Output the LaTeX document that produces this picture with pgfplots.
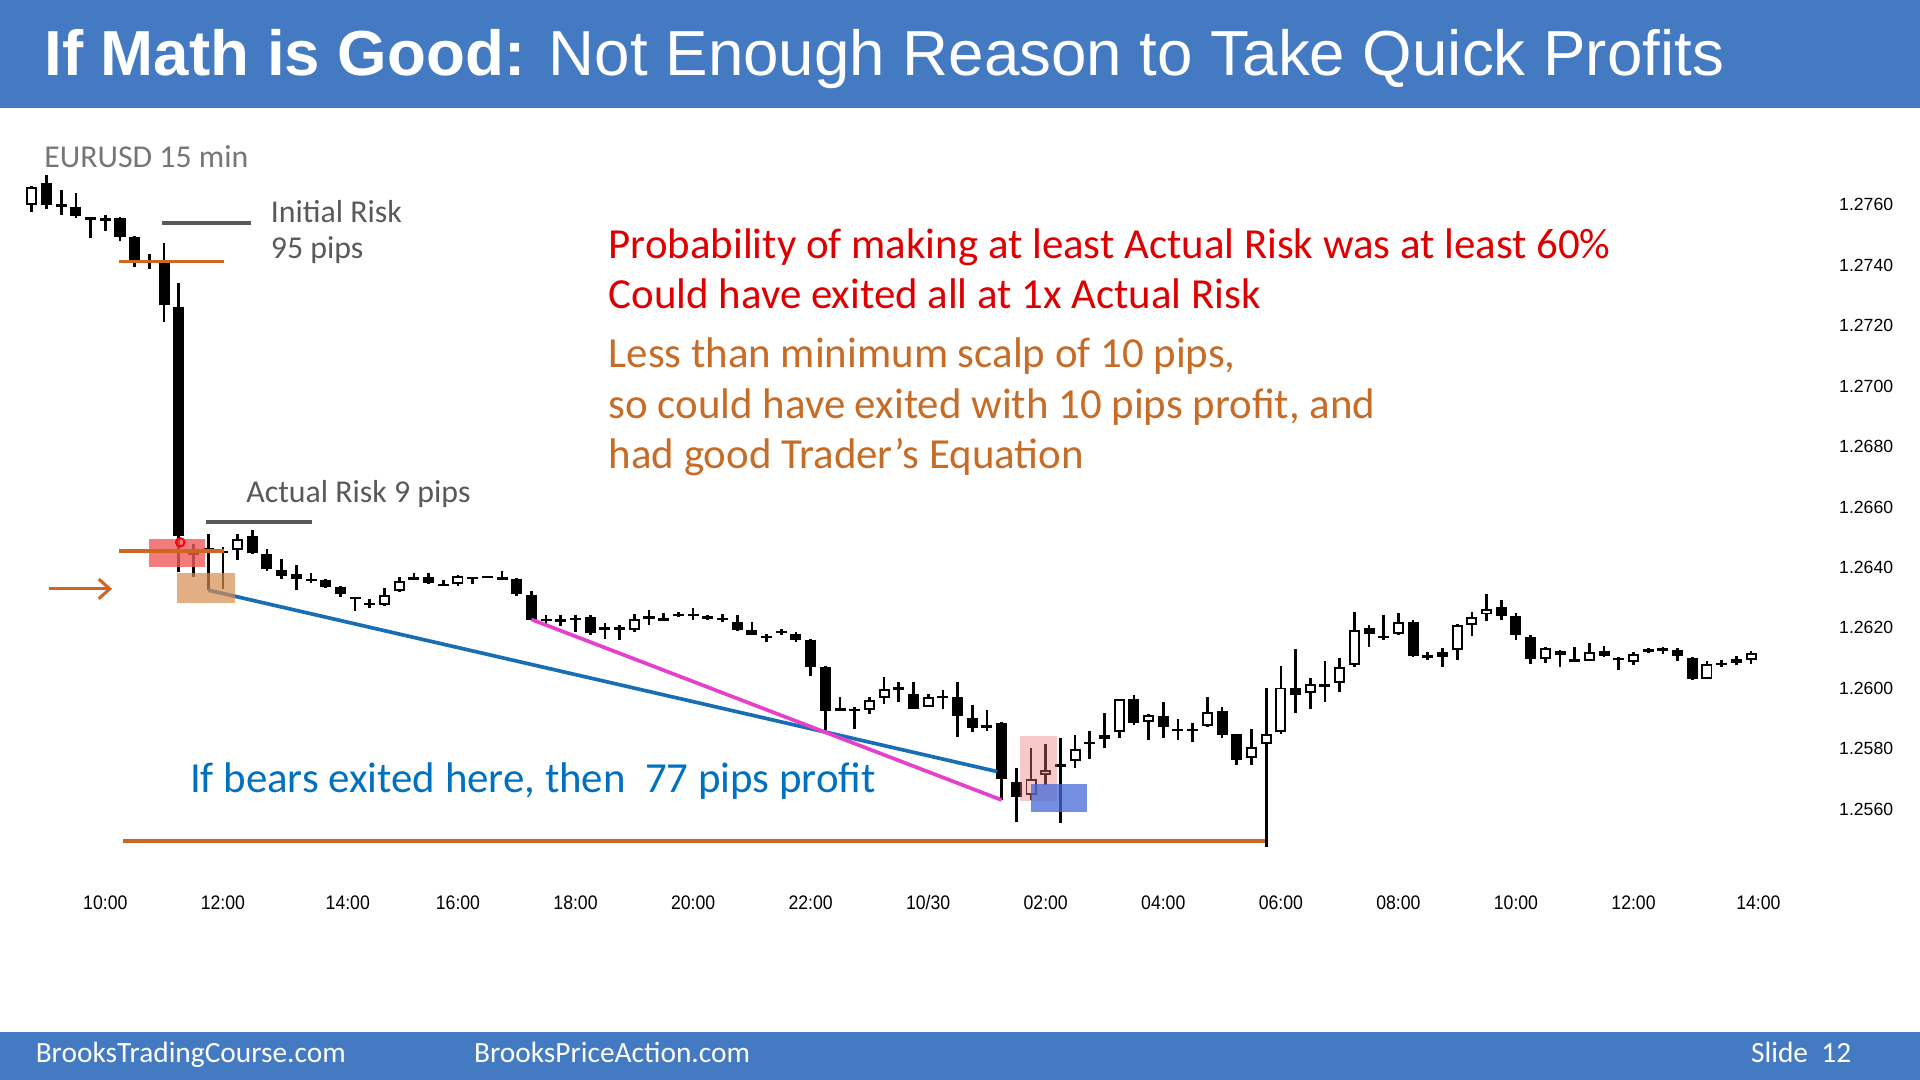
\documentclass[border=0pt]{standalone}
\usepackage{fontspec}
\setmainfont{Carlito}
\newfontfamily\arialfont{Liberation Sans}
\newfontfamily\tickfont[FakeStretch=0.9]{Liberation Sans}
\usepackage{pgfplots}
\pgfplotsset{compat=1.18}
\usepackage{pgfplotstable}
\usetikzlibrary{arrows.meta}

\definecolor{slideblue}{RGB}{67,122,194}
\definecolor{riskgray}{RGB}{89,89,89}
\definecolor{labelgray}{RGB}{118,118,118}
\definecolor{mathred}{RGB}{222,0,0}
\definecolor{scalporange}{RGB}{198,108,38}
\definecolor{stoporange}{RGB}{205,102,35}
\definecolor{profitblue}{RGB}{0,112,192}
\definecolor{trendblue}{RGB}{24,110,180}
\definecolor{trendmagenta}{RGB}{228,64,205}
\definecolor{entryred}{RGB}{240,90,90}
\definecolor{entrytan}{RGB}{214,140,80}
\definecolor{zonepink}{RGB}{235,120,120}
\definecolor{zoneblue}{RGB}{70,105,215}

% EURUSD 15 min bars: index (0 = 10:00), open, high, low, close
\pgfplotstableread{
i o h l c
-5 1.27598 1.27661 1.27576 1.27659
-4 1.27670 1.27697 1.27587 1.27598
-3 1.27600 1.27648 1.27565 1.27596
-2 1.27593 1.27639 1.27557 1.27562
-1 1.27557 1.27560 1.27491 1.27554
0 1.27552 1.27568 1.27513 1.27549
1 1.27557 1.27559 1.27482 1.27493
2 1.27493 1.27496 1.27394 1.27414
3 1.27416 1.27438 1.27389 1.27412
4 1.27411 1.27474 1.27212 1.27268
5 1.27262 1.27341 1.26386 1.26505
6 1.26450 1.26480 1.26370 1.26440
7 1.26463 1.26513 1.26325 1.26455
8 1.26450 1.26469 1.26330 1.26454
9 1.26458 1.26513 1.26425 1.26496
10 1.26504 1.26524 1.26445 1.26447
11 1.26447 1.26463 1.26389 1.26397
12 1.26394 1.26430 1.26364 1.26372
13 1.26378 1.26408 1.26328 1.26364
14 1.26360 1.26381 1.26348 1.26358
15 1.26361 1.26364 1.26333 1.26336
16 1.26334 1.26339 1.26303 1.26312
17 1.26301 1.26304 1.26259 1.26298
18 1.26283 1.26298 1.26268 1.26280
19 1.26276 1.26331 1.26273 1.26311
20 1.26322 1.26369 1.26320 1.26355
21 1.26369 1.26381 1.26357 1.26359
22 1.26367 1.26381 1.26345 1.26347
23 1.26343 1.26359 1.26340 1.26341
24 1.26347 1.26375 1.26339 1.26372
25 1.26368 1.26370 1.26347 1.26366
26 1.26370 1.26373 1.26365 1.26368
27 1.26364 1.26389 1.26361 1.26362
28 1.26364 1.26367 1.26305 1.26314
29 1.26309 1.26323 1.26226 1.26228
30 1.26229 1.26243 1.26215 1.26227
31 1.26226 1.26243 1.26209 1.26225
32 1.26231 1.26243 1.26187 1.26229
33 1.26237 1.26243 1.26177 1.26184
34 1.26200 1.26215 1.26163 1.26197
35 1.26199 1.26210 1.26160 1.26197
36 1.26193 1.26248 1.26187 1.26231
37 1.26234 1.26259 1.26210 1.26236
38 1.26230 1.26250 1.26227 1.26228
39 1.26245 1.26254 1.26235 1.26240
40 1.26244 1.26265 1.26226 1.26241
41 1.26237 1.26243 1.26228 1.26234
42 1.26232 1.26248 1.26220 1.26229
43 1.26221 1.26243 1.26191 1.26193
44 1.26193 1.26221 1.26175 1.26177
45 1.26172 1.26182 1.26155 1.26170
46 1.26190 1.26199 1.26177 1.26186
47 1.26182 1.26188 1.26155 1.26160
48 1.26160 1.26165 1.26044 1.26072
49 1.26072 1.26074 1.25862 1.25926
50 1.25930 1.25973 1.25927 1.25929
51 1.25930 1.25940 1.25865 1.25928
52 1.25929 1.25973 1.25915 1.25962
53 1.25970 1.26037 1.25948 1.26000
54 1.26006 1.26022 1.25956 1.25995
55 1.25984 1.26022 1.25932 1.25934
56 1.25940 1.25984 1.25938 1.25973
57 1.25975 1.25995 1.25934 1.25971
58 1.25973 1.26022 1.25838 1.25909
59 1.25904 1.25945 1.25857 1.25871
60 1.25879 1.25929 1.25862 1.25868
61 1.25885 1.25890 1.25631 1.25699
62 1.25692 1.25736 1.25559 1.25642
63 1.25648 1.25802 1.25631 1.25703
64 1.25714 1.25818 1.25681 1.25730
65 1.25741 1.25835 1.25554 1.25752
66 1.25763 1.25846 1.25739 1.25802
67 1.25816 1.25860 1.25769 1.25824
68 1.25835 1.25920 1.25805 1.25846
69 1.25857 1.25967 1.25838 1.25964
70 1.25967 1.25978 1.25879 1.25885
71 1.25890 1.25918 1.25832 1.25912
72 1.25909 1.25956 1.25838 1.25871
73 1.25866 1.25901 1.25832 1.25860
74 1.25865 1.25885 1.25824 1.25862
75 1.25876 1.25970 1.25874 1.25923
76 1.25926 1.25940 1.25838 1.25846
77 1.25849 1.25852 1.25747 1.25765
78 1.25772 1.25865 1.25747 1.25807
79 1.25818 1.26003 1.25476 1.25849
80 1.25857 1.26074 1.25849 1.26003
81 1.26003 1.26132 1.25920 1.25978
82 1.25986 1.26036 1.25934 1.26015
83 1.26013 1.26092 1.25956 1.26010
84 1.26019 1.26100 1.25989 1.26070
85 1.26077 1.26254 1.26072 1.26193
86 1.26199 1.26210 1.26138 1.26182
87 1.26173 1.26243 1.26160 1.26169
88 1.26180 1.26250 1.26178 1.26221
89 1.26221 1.26228 1.26105 1.26110
90 1.26109 1.26122 1.26094 1.26106
91 1.26122 1.26136 1.26072 1.26103
92 1.26127 1.26215 1.26094 1.26210
93 1.26210 1.26254 1.26173 1.26237
94 1.26246 1.26314 1.26224 1.26265
95 1.26270 1.26292 1.26228 1.26239
96 1.26239 1.26250 1.26162 1.26177
97 1.26171 1.26177 1.26081 1.26099
98 1.26099 1.26138 1.26083 1.26133
99 1.26125 1.26128 1.26070 1.26110
100 1.26099 1.26136 1.26086 1.26088
101 1.26092 1.26151 1.26090 1.26122
102 1.26125 1.26140 1.26103 1.26107
103 1.26100 1.26103 1.26061 1.26097
104 1.26088 1.26122 1.26077 1.26114
105 1.26132 1.26136 1.26118 1.26122
106 1.26130 1.26138 1.26116 1.26128
107 1.26129 1.26133 1.26092 1.26110
108 1.26103 1.26105 1.26028 1.26033
109 1.26033 1.26092 1.26031 1.26081
110 1.26082 1.26094 1.26072 1.26080
111 1.26096 1.26107 1.26077 1.26083
112 1.26096 1.26125 1.26083 1.26118
}\candles

\begin{document}
\begin{tikzpicture}
% slide background, title bar and footer bar
\fill[white] (0pt,0pt) rectangle (1568pt,-882pt);
\fill[slideblue] (0pt,0pt) rectangle (1568pt,-88pt);
\fill[slideblue] (0pt,-843pt) rectangle (1568pt,-882pt);

\begin{axis}[
  at={(2pt,-710.4pt)}, anchor=south west,
  scale only axis, width=1452pt, height=568.1pt,
  xmin=-7, xmax=114, ymin=1.254, ymax=1.277,
  clip=false,
  axis line style={draw=none},
  major tick length=0pt, tick style={draw=none},
  xtick={0,8,16.5,24,32,40,48,56,64,72,80,88,96,104,112.5},
  xticklabels={10:00,12:00,14:00,16:00,18:00,20:00,22:00,10/30,02:00,04:00,06:00,08:00,10:00,12:00,14:00},
  ytick={1.256,1.258,1.260,1.262,1.264,1.266,1.268,1.270,1.272,1.274,1.276},
  yticklabels={1.2560,1.2580,1.2600,1.2620,1.2640,1.2660,1.2680,1.2700,1.2720,1.2740,1.2760},
  yticklabel pos=right,
  xticklabel style={font=\tickfont\fontsize{16}{18}\selectfont, anchor=center, yshift=-26.6pt},
  yticklabel style={font=\arialfont\fontsize{14.4}{16}\selectfont, anchor=center, xshift=70pt},
  candle/.style={only marks, mark=none, mark options={draw=none, fill=none, scale=0},
    error bars/y dir=both, error bars/y explicit, error bars/error mark=none},
]
% wicks
\addplot[candle, error bars/error bar style={line width=2.2pt, black}]
  table[x=i, y expr={(\thisrow{h}+\thisrow{l})/2},
        y error expr={(\thisrow{h}-\thisrow{l})/2}] {\candles};
% bodies
\addplot[candle, error bars/error bar style={line width=9pt, black}]
  table[x=i, y expr={(\thisrow{o}+\thisrow{c})/2},
        y error expr={max(abs(\thisrow{o}-\thisrow{c})/2,0.00004)}] {\candles};
% hollow inside of up bars
\addplot[candle, error bars/error bar style={line width=5.8pt, white}]
  table[x=i, y expr={(\thisrow{o}+\thisrow{c})/2},
        y error expr={\thisrow{c}>\thisrow{o} ? max((\thisrow{c}-\thisrow{o})/2-0.000065,0) : 0}] {\candles};

% trend lines
\draw[trendblue, line width=3pt] (axis cs:7,1.26325) -- (axis cs:60.7,1.25725);
\draw[trendmagenta, line width=3pt] (axis cs:29,1.26228) -- (axis cs:61,1.25631);

% entry and exit zones
\fill[entryred, opacity=0.8] (axis cs:2.97,1.26495) rectangle (axis cs:6.78,1.26402);
\fill[entrytan, opacity=0.7] (axis cs:4.86,1.26381) rectangle (axis cs:8.83,1.26283);
\fill[zonepink, opacity=0.4] (axis cs:62.25,1.25843) rectangle (axis cs:64.75,1.25629);
\fill[zoneblue, opacity=0.75] (axis cs:62.97,1.25684) rectangle (axis cs:66.83,1.25591);
\draw[red, line width=1.6pt] (axis cs:5.1,1.26483) circle[radius=3.5pt];

% stop, entry and measured move levels
\draw[stoporange, line width=3pt] (axis cs:0.92,1.27412) -- (axis cs:8.08,1.27412);
\draw[stoporange, line width=3pt] (axis cs:0.92,1.26454) -- (axis cs:8.08,1.26454);
\draw[stoporange, line width=3pt] (axis cs:1.17,1.25495) -- (axis cs:78.9,1.25495);
\draw[riskgray, line width=3pt] (axis cs:3.83,1.27539) -- (axis cs:9.92,1.27539);
\draw[riskgray, line width=3pt] (axis cs:6.83,1.26551) -- (axis cs:14.08,1.26551);

% entry arrow
\draw[stoporange, line width=2.5pt, -{Straight Barb[length=9pt,width=16pt]}]
  (axis cs:-3.83,1.26329) -- (axis cs:0.46,1.26329);
\end{axis}

% title
\node[anchor=base west, inner sep=0, text=white] at (36pt,-62pt)
  {\fontsize{52}{60}\selectfont\arialfont\textbf{If Math is Good:} Not Enough Reason to Take Quick Profits};

% chart labels
\node[anchor=base west, inner sep=0, text=labelgray] at (36pt,-137pt)
  {\fontsize{26}{30}\selectfont EURUSD 15 min};
\node[anchor=base west, inner sep=0, text=riskgray] at (221pt,-182pt)
  {\fontsize{26}{30}\selectfont Initial Risk};
\node[anchor=base west, inner sep=0, text=riskgray] at (221pt,-211pt)
  {\fontsize{26}{30}\selectfont 95 pips};
\node[anchor=base west, inner sep=0, text=riskgray] at (201pt,-410pt)
  {\fontsize{26}{30}\selectfont Actual Risk 9 pips};

\node[anchor=base west, inner sep=0, text=mathred] at (497pt,-211pt)
  {\fontsize{35}{40}\selectfont Probability of making at least Actual Risk was at least 60\%};
\node[anchor=base west, inner sep=0, text=mathred] at (497pt,-252pt)
  {\fontsize{35}{40}\selectfont Could have exited all at 1x Actual Risk};
\node[anchor=base west, inner sep=0, text=scalporange] at (497pt,-300pt)
  {\fontsize{35}{40}\selectfont Less than minimum scalp of 10 pips,};
\node[anchor=base west, inner sep=0, text=scalporange] at (497pt,-342pt)
  {\fontsize{35}{40}\selectfont so could have exited with 10 pips profit, and};
\node[anchor=base west, inner sep=0, text=scalporange] at (497pt,-383pt)
  {\fontsize{35}{40}\selectfont had good Trader’s Equation};
\node[anchor=base west, inner sep=0, text=profitblue] at (155pt,-647pt)
  {\fontsize{35}{40}\selectfont If bears exited here, then\ \ 77 pips profit};

% footer
\node[anchor=base west, inner sep=0, text=white] at (29pt,-868pt)
  {\fontsize{24}{28}\selectfont BrooksTradingCourse.com};
\node[anchor=base west, inner sep=0, text=white] at (387pt,-868pt)
  {\fontsize{24}{28}\selectfont BrooksPriceAction.com};
\node[anchor=base east, inner sep=0, text=white] at (1512pt,-868pt)
  {\fontsize{24}{28}\selectfont Slide\ \ 12};
\end{tikzpicture}
\end{document}
